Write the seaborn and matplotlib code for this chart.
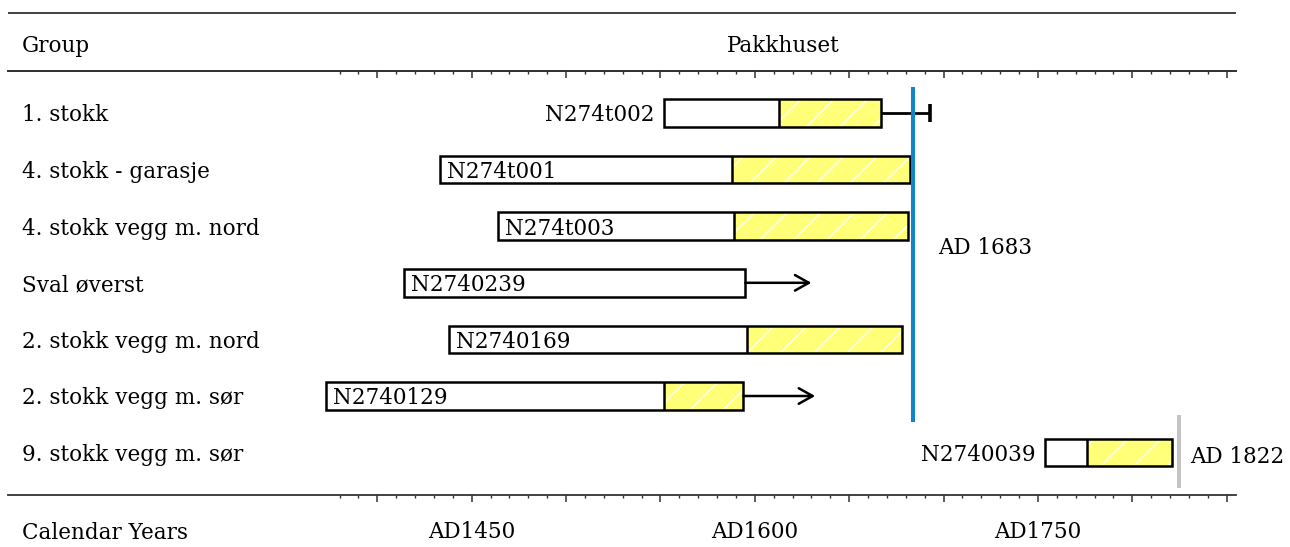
import numpy as np
import matplotlib
matplotlib.use("Agg")
import matplotlib.pyplot as plt
from matplotlib.ticker import FixedLocator, FuncFormatter
import seaborn as sns

# ---------------- data ----------------
groups = ["1. stokk", "4. stokk - garasje", "4. stokk vegg m. nord", "Sval øverst",
          "2. stokk vegg m. nord", "2. stokk vegg m. sør", "9. stokk vegg m. sør"]
samples = ["N274t002", "N274t001", "N274t003", "N2740239", "N2740169", "N2740129", "N2740039"]
first_ring = [1552, 1433, 1464, 1414, 1438, 1373, 1754]
sapwood_start = [1613, 1588, 1589, 1595, 1596, 1552, 1776]
last_ring = [1667, 1682, 1681, 1595, 1678, 1594, 1821]
felling_limit = [1693, np.nan, np.nan, 1630, np.nan, 1632, np.nan]
limit_kind = ["cap", "", "", "arrow", "", "arrow", ""]
label_inside = [False, True, True, True, True, True, False]

event_years = [1684, 1824.5]
event_labels = ["AD 1683", "AD 1822"]
event_colors = ["#1185c9", "#c4c4c4"]
event_span = [(-0.459, 5.454), (5.336, 6.625)]
event_label_row = [2.49, 6.19]
event_label_dx = [13, 6.2]

major_ticks = [1400, 1450, 1500, 1550, 1600, 1650, 1700, 1750, 1800, 1850]
minor_ticks = list(range(1380, 1851, 10))
labelled_ticks = [1450, 1600, 1750]

header_left = "Group"
header_site = "Pakkhuset"
axis_title = "Calendar Years"

# ---------------- style ----------------
sns.set_theme(style="white")
plt.rcParams["font.family"] = ["DejaVu Serif"]
plt.rcParams["text.color"] = "black"
plt.rcParams["xtick.labelcolor"] = "black"
plt.rcParams["hatch.linewidth"] = 1.0
FS = 15.5
LINE = "#333333"

fig = plt.figure(figsize=(12.9, 5.47), dpi=100)
ax = fig.add_axes([8.3 / 1290, 52 / 547, 1227.4 / 1290, 424 / 547])
xlim = (1204.5, 1854.8)
ax.set_xlim(*xlim)
ax.set_ylim(6.749, -0.742)

rows = np.arange(len(groups))
H = 0.486

sap_w = np.subtract(last_ring, sapwood_start)
tot_w = np.subtract(last_ring, first_ring)

ax.barh(rows, sap_w, left=sapwood_start, height=H, color="#ffff78", hatch="/",
        edgecolor="white", linewidth=0, zorder=2)
ax.barh(rows, tot_w, left=first_ring, height=H, fill=False, edgecolor="black",
        linewidth=1.8, zorder=3)
has_sap = sap_w > 0
ax.vlines(np.array(sapwood_start)[has_sap], rows[has_sap] - H / 2, rows[has_sap] + H / 2,
          color="black", lw=1.8, zorder=3)

for i in rows:
    kind = limit_kind[i]
    if kind == "cap":
        ax.hlines(i, last_ring[i], felling_limit[i], color="black", lw=2.0, zorder=3)
        ax.vlines(felling_limit[i], i - 0.155, i + 0.155, color="black", lw=2.6, zorder=3)
    elif kind == "arrow":
        ax.annotate("", xy=(felling_limit[i], i), xytext=(last_ring[i], i),
                    arrowprops=dict(arrowstyle="->,head_length=0.5,head_width=0.28",
                                    mutation_scale=20, lw=1.8, color="black",
                                    shrinkA=0, shrinkB=0), zorder=3)

for i in rows:
    if label_inside[i]:
        ax.text(first_ring[i] + 3.7, i + 0.15, samples[i], ha="left", va="baseline",
                fontsize=FS, color="black", zorder=4)
    else:
        ax.text(first_ring[i] - 5.3, i + 0.15, samples[i], ha="right", va="baseline",
                fontsize=FS, color="black", zorder=4)
    ax.text(1211.6, i + 0.15, groups[i], ha="left", va="baseline", fontsize=FS,
            color="black", clip_on=False)

for yr, lab, col, (y0, y1), ly, dx in zip(event_years, event_labels, event_colors,
                                          event_span, event_label_row, event_label_dx):
    ax.vlines(yr, y0, y1, color=col, lw=2.9, zorder=5)
    ax.text(yr + dx, ly, lab, ha="left", va="baseline", fontsize=FS, color="black",
            clip_on=False)

# header
ax.hlines(-1.772, *xlim, color=LINE, lw=1.3, clip_on=False)
ax.text(1211.6, -1.069, header_left, ha="left", va="baseline", fontsize=FS,
        color="black", clip_on=False)
ax.text(1615, -1.069, header_site, ha="center", va="baseline", fontsize=FS,
        color="black", clip_on=False)
ax.text(1211.6, 7.518, axis_title, ha="left", va="baseline", fontsize=FS,
        color="black", clip_on=False)

# axes
for s in ["left", "right"]:
    ax.spines[s].set_visible(False)
for s in ["top", "bottom"]:
    ax.spines[s].set_color(LINE)
    ax.spines[s].set_linewidth(1.3)

ax.xaxis.set_major_locator(FixedLocator(major_ticks))
ax.xaxis.set_minor_locator(FixedLocator(minor_ticks))
ax.xaxis.set_major_formatter(FuncFormatter(
    lambda v, p: f"AD{int(round(v))}" if int(round(v)) in labelled_ticks else ""))
ax.tick_params(axis="x", which="major", direction="out", length=5, width=1.1,
               color=LINE, labelsize=FS, labelcolor="black", pad=14, bottom=True, top=False)
ax.tick_params(axis="x", which="minor", direction="out", length=2.3, width=1.0,
               color=LINE, bottom=True, top=False)
ax.tick_params(axis="y", left=False, labelleft=False)

ax2 = ax.twiny()
ax2.set_xlim(*xlim)
ax2.xaxis.set_major_locator(FixedLocator(major_ticks))
ax2.xaxis.set_minor_locator(FixedLocator(minor_ticks))
ax2.tick_params(axis="x", which="major", direction="in", length=5, width=1.1,
                color=LINE, top=True, labeltop=False, bottom=False)
ax2.tick_params(axis="x", which="minor", direction="in", length=2.3, width=1.0,
                color=LINE, top=True, bottom=False)
for s in ["left", "right", "bottom"]:
    ax2.spines[s].set_visible(False)
ax2.spines["top"].set_color(LINE)
ax2.spines["top"].set_linewidth(1.3)

fig.savefig("out.png", dpi=100, facecolor="white")
